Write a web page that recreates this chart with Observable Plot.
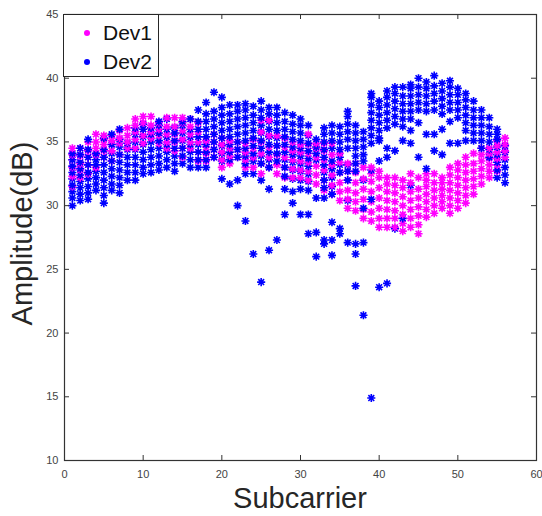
<!DOCTYPE html>
<html>
<head>
<meta charset="utf-8">
<script src="https://cdn.jsdelivr.net/npm/d3@7"></script>
<script src="https://cdn.jsdelivr.net/npm/@observablehq/plot@0.6"></script>
<style>
  html, body { margin: 0; padding: 0; background: #fff; }
  #wrap { position: relative; width: 542px; height: 516px; font-family: "Liberation Sans", Arial, sans-serif; }
  #wrap svg { position: absolute; left: 0; top: 0; }
  .xlabel { position: absolute; left: 0; width: 600px; top: 484px; text-align: center; font-size: 29px; line-height: 29px; color: #262626; }
  .ylabel { position: absolute; width: 260px; left: -108px; top: 219px; text-align: center; font-size: 29px; line-height: 29px; color: #262626; transform: rotate(-90deg); }
  .legend { position: absolute; left: 63px; top: 14px; width: 96px; height: 63px; border: 1px solid #262626; background: #fff; box-sizing: border-box; }
  .legend .row { position: absolute; left: 0; font-size: 21px; line-height: 21px; color: #111; }
  .legend .mk { position: absolute; width: 6px; height: 6px; border-radius: 3px; left: 20px; top: 8px; }
  .legend .tx { position: absolute; left: 39px; top: 0; }
</style>
</head>
<body>
<div id="wrap"></div>
<script>
// Subcarrier indices 1..56
const subcarriers = d3.range(1, 57);

// Dev1 amplitudes (dB) per subcarrier
const dev1 = [
  [31.5, 32.3, 33.0, 33.6, 34.0, 34.5],
  [32.2, 32.8, 33.3, 33.9, 34.5],
  [32.5, 33.2, 33.8, 34.3, 35.0],
  [33.0, 34.0, 34.5, 35.0, 35.6],
  [33.8, 34.3, 34.8, 35.2, 35.5],
  [33.5, 34.3, 34.8, 35.1, 35.5],
  [34.0, 34.9, 35.3, 35.9],
  [34.5, 35.0, 35.5, 36.1],
  [34.5, 35.2, 35.8, 36.3, 36.8],
  [34.9, 35.5, 36.0, 36.5, 37.0],
  [35.3, 35.8, 36.3, 37.0],
  [34.9, 35.5, 36.0, 36.5],
  [34.5, 35.0, 35.6, 36.2, 36.9],
  [34.3, 35.0, 35.6, 36.2, 36.9],
  [33.8, 34.5, 35.2, 35.9, 36.5, 36.9],
  [34.5, 35.0, 35.6, 36.2, 36.8],
  [33.5, 34.2, 35.0, 35.8, 36.5],
  [33.5, 34.1, 34.6, 35.1],
  [33.8, 34.4, 35.0, 35.6],
  [33.0, 33.6, 34.2, 34.8, 35.3],
  [33.3, 33.9, 34.5, 35.1],
  [33.8, 34.4, 35.0],
  [33.0, 33.6, 34.2, 34.9],
  [33.0, 33.8, 34.5, 35.2],
  [32.5, 33.3, 34.1, 35.0, 35.8, 36.7],
  [33.0, 33.8, 34.6, 35.5, 36.7],
  [32.5, 33.2, 34.0, 34.7, 35.5],
  [32.2, 33.0, 33.8, 34.6, 35.3],
  [32.2, 32.9, 33.6, 34.3, 35.0],
  [32.2, 32.8, 33.5, 34.2, 34.8],
  [32.0, 32.7, 33.4, 34.1, 34.8, 35.6],
  [31.7, 32.4, 33.1, 33.8, 34.5, 34.9],
  [31.2, 32.0, 32.8, 33.6, 34.3, 34.9],
  [30.9, 31.6, 32.4, 33.2, 34.0, 34.9],
  [30.4, 31.1, 31.8, 32.6, 33.4, 34.1],
  [29.8, 30.5, 31.2, 32.0, 32.7, 33.3],
  [29.6, 30.3, 31.0, 31.8, 32.6, 33.3],
  [29.0, 29.7, 30.5, 31.3, 32.1, 33.0],
  [28.8, 29.5, 30.3, 31.1, 31.9, 32.5, 33.0],
  [28.3, 29.0, 29.8, 30.6, 31.4, 32.2, 32.7],
  [28.3, 29.0, 29.7, 30.4, 31.1, 31.7, 32.2],
  [28.3, 29.0, 29.6, 30.3, 31.0, 31.6, 32.2],
  [28.0, 28.6, 29.3, 30.0, 30.7, 31.4, 32.0],
  [28.3, 29.0, 29.7, 30.4, 31.1, 31.8, 32.5],
  [27.8, 28.5, 29.2, 29.9, 30.6, 31.3, 32.2],
  [29.1, 29.7, 30.3, 30.9, 31.5, 32.0, 32.5],
  [29.4, 30.0, 30.6, 31.2, 31.8, 32.5],
  [29.8, 30.3, 30.8, 31.3, 31.8, 32.2],
  [29.4, 30.0, 30.6, 31.2, 31.8, 32.4, 33.0],
  [29.8, 30.4, 31.0, 31.6, 32.2, 32.8, 33.3],
  [30.2, 30.8, 31.4, 32.0, 32.6, 33.2, 33.8],
  [30.9, 31.5, 32.1, 32.7, 33.3, 34.1],
  [31.7, 32.3, 32.9, 33.5, 34.0, 34.5],
  [32.2, 32.7, 33.2, 33.7, 34.1, 34.5],
  [32.7, 33.2, 33.7, 34.2, 34.7, 35.1],
  [33.8, 34.3, 34.8, 35.3]
];

// Dev2 amplitudes (dB) per subcarrier
const dev2 = [
  [30.0, 30.6, 31.1, 31.6, 32.1, 32.6, 33.1, 33.6, 34.1],
  [30.4, 30.9, 31.4, 31.9, 32.4, 32.9, 33.4, 34.0, 34.5],
  [30.5, 31.0, 31.5, 32.1, 32.6, 33.2, 33.8, 34.4, 35.2],
  [31.2, 31.7, 32.2, 32.7, 33.2, 33.6, 34.1],
  [30.2, 30.8, 31.4, 32.0, 32.6, 33.2, 33.8, 34.4, 35.3],
  [31.2, 31.7, 32.3, 32.9, 33.5, 34.1, 34.8, 35.6],
  [31.0, 31.6, 32.2, 32.8, 33.4, 34.0, 34.6, 35.2, 36.0],
  [32.0, 32.6, 33.2, 33.8, 34.4, 34.9],
  [32.0, 32.6, 33.2, 33.8, 34.4, 35.0, 35.6, 36.1],
  [32.5, 33.0, 33.6, 34.2, 34.8, 35.4, 36.0, 36.4],
  [32.6, 33.2, 33.8, 34.4, 35.0, 35.6, 36.1],
  [32.8, 33.3, 33.9, 34.5, 35.1, 35.7, 36.3, 36.6],
  [33.0, 33.6, 34.2, 34.8, 35.4, 36.0, 36.8],
  [32.7, 33.3, 33.9, 34.5, 35.1, 35.7, 36.1],
  [33.3, 33.9, 34.5, 35.1, 35.7, 36.3, 36.6],
  [33.0, 33.6, 34.2, 34.8, 35.4, 36.0, 36.8],
  [33.0, 33.6, 34.2, 34.8, 35.4, 36.0, 36.6, 37.5],
  [33.0, 33.6, 34.2, 34.8, 35.4, 36.0, 36.6, 37.2, 38.1],
  [33.8, 34.4, 35.0, 35.6, 36.2, 36.8, 37.4, 38.9],
  [32.1, 33.5, 34.1, 34.7, 35.3, 35.9, 36.5, 37.1, 37.7, 38.5],
  [31.7, 33.6, 34.2, 34.8, 35.4, 36.0, 36.6, 37.2, 37.9],
  [30.0, 32.0, 33.8, 34.4, 35.0, 35.6, 36.2, 36.8, 37.4, 37.9],
  [28.8, 32.5, 33.3, 33.9, 34.5, 35.1, 35.7, 36.3, 36.9, 37.5, 38.0],
  [26.2, 32.5, 33.5, 34.1, 34.7, 35.3, 35.9, 36.5, 37.1, 37.8],
  [24.0, 32.0, 33.3, 33.9, 34.5, 35.1, 35.7, 36.3, 36.9, 37.5, 38.2],
  [26.5, 31.3, 33.0, 33.6, 34.2, 34.8, 35.4, 36.0, 36.6, 37.2, 37.7],
  [27.3, 33.5, 34.1, 34.7, 35.3, 35.9, 36.5, 37.1, 37.7],
  [29.3, 31.3, 32.3, 33.0, 33.6, 34.2, 34.8, 35.4, 36.0, 36.6, 37.3],
  [30.2, 31.1, 32.1, 32.8, 33.4, 34.0, 34.6, 35.2, 35.8, 36.4, 37.1],
  [29.3, 31.3, 32.0, 32.7, 33.3, 33.9, 34.5, 35.1, 35.7, 36.3, 36.8],
  [27.8, 29.3, 31.2, 31.9, 32.5, 33.1, 33.7, 34.3, 34.9, 35.5, 36.3],
  [26.0, 27.9, 30.6, 33.6, 34.1, 34.6, 35.2],
  [27.0, 27.3, 30.6, 31.4, 32.0, 32.6, 33.2, 33.8, 34.4, 35.0, 35.6, 36.1],
  [26.1, 27.3, 28.7, 30.9, 31.5, 32.2, 32.9, 33.5, 34.5, 35.1, 35.7, 36.3],
  [27.8, 28.2, 32.6, 33.2, 33.8, 34.4, 35.0, 35.6, 36.2],
  [27.1, 30.4, 32.0, 32.7, 33.2, 34.5, 35.2, 35.8, 36.4, 37.0, 37.4],
  [23.7, 26.2, 27.0, 32.7, 33.3, 33.9, 34.5, 35.1, 35.7, 36.3],
  [21.4, 27.1, 29.8, 32.0, 33.5, 34.0, 34.6, 35.2, 35.8],
  [14.9, 30.5, 32.8, 34.9, 35.5, 36.1, 36.7, 37.3, 37.9, 38.5, 38.8],
  [23.6, 33.5, 35.1, 35.3, 35.9, 36.5, 37.1, 37.7, 38.2],
  [23.9, 33.8, 34.5, 36.1, 36.7, 37.3, 37.9, 38.5, 39.0],
  [28.2, 34.3, 36.4, 37.0, 37.6, 38.2, 38.8, 39.3],
  [29.0, 35.1, 36.2, 36.8, 37.4, 38.0, 38.6, 39.3],
  [31.6, 34.9, 35.9, 36.8, 37.4, 38.0, 38.6, 39.2, 39.5],
  [33.8, 36.5, 37.5, 38.1, 38.7, 39.3, 40.0],
  [32.9, 35.6, 37.4, 38.0, 38.6, 39.2, 39.7],
  [34.3, 35.6, 37.5, 38.2, 38.8, 39.4, 40.2],
  [34.0, 36.0, 37.2, 37.8, 38.4, 39.0, 39.6],
  [34.9, 36.6, 37.5, 38.1, 38.7, 39.3, 39.8],
  [34.9, 36.9, 37.5, 38.1, 38.7, 39.2],
  [35.1, 35.9, 36.5, 37.1, 37.7, 38.3, 38.8],
  [35.1, 35.7, 36.3, 36.9, 37.5, 38.2],
  [34.5, 35.1, 35.7, 36.3, 36.9, 37.5],
  [33.8, 34.4, 35.0, 35.6, 36.2, 36.9],
  [32.2, 32.8, 33.4, 34.0, 34.6, 35.2, 35.6, 36.0],
  [31.8, 32.4, 33.0, 33.6, 34.2, 34.7]
];

const xTicks = [0, 10, 20, 30, 40, 50, 60];
const yTicks = [10, 15, 20, 25, 30, 35, 40, 45];
const seriesNames = ["Dev1", "Dev2"];
const seriesColors = ["#ff00ff", "#0000ff"];

// Per subcarrier, draw both devices' samples merged in ascending amplitude so the two colours mix
const points = subcarriers.flatMap((sc, i) => [
  ...dev1[i].map(v => ({sc, amp: v, dev: seriesNames[0]})),
  ...dev2[i].map(v => ({sc, amp: v, dev: seriesNames[1]}))
].sort((p, q) => p.amp - q.amp));

// MATLAB-style 8-arm asterisk symbol
const matlabStar = {
  draw(ctx, size) {
    const a = Math.sqrt(size / Math.PI) * 1.5;
    const d = a * 0.72;
    ctx.moveTo(-a, 0); ctx.lineTo(a, 0);
    ctx.moveTo(0, -a); ctx.lineTo(0, a);
    ctx.moveTo(-d, -d); ctx.lineTo(d, d);
    ctx.moveTo(-d, d); ctx.lineTo(d, -d);
  }
};

const W = 542, H = 516;
const mL = 64, mR = 6, mT = 14, mB = 56;
const fw = W - mL - mR, fh = H - mT - mB;
const tickLen = 5;
const axisColor = "#333";

const chart = Plot.plot({
  width: W, height: H,
  marginLeft: mL, marginRight: mR, marginTop: mT, marginBottom: mB,
  style: {fontFamily: "Liberation Sans, Arial, sans-serif", background: "#fff"},
  x: {domain: [0, 60]},
  y: {domain: [10, 45]},
  color: {domain: seriesNames, range: seriesColors},
  marks: [
    Plot.dot(points, {x: "sc", y: "amp", symbol: matlabStar, r: 2.7, fill: "none", stroke: "dev", strokeWidth: 1.6}),
    Plot.frame({stroke: axisColor, strokeWidth: 1.2}),
    Plot.tickX(xTicks, {x: d => d, insetTop: fh - tickLen, stroke: axisColor}),
    Plot.tickX(xTicks, {x: d => d, insetBottom: fh - tickLen, stroke: axisColor}),
    Plot.tickY(yTicks, {y: d => d, insetRight: fw - tickLen, stroke: axisColor}),
    Plot.tickY(yTicks, {y: d => d, insetLeft: fw - tickLen, stroke: axisColor}),
    Plot.axisX({ticks: xTicks, tickSize: 0, tickPadding: 10, fontSize: 11, color: "#444", label: null}),
    Plot.axisY({ticks: yTicks, tickSize: 0, tickPadding: 6, fontSize: 11, color: "#444", label: null})
  ]
});

const wrap = document.getElementById("wrap");
wrap.appendChild(chart);

const xl = document.createElement("div");
xl.className = "xlabel"; xl.textContent = "Subcarrier";
wrap.appendChild(xl);
const yl = document.createElement("div");
yl.className = "ylabel"; yl.textContent = "Amplitude(dB)";
wrap.appendChild(yl);

const lg = document.createElement("div");
lg.className = "legend";
seriesNames.forEach((name, i) => {
  const row = document.createElement("div");
  row.className = "row";
  row.style.top = (i === 0 ? 7 : 36) + "px";
  row.style.width = "96px";
  row.style.height = "21px";
  const mk = document.createElement("span");
  mk.className = "mk"; mk.style.background = seriesColors[i];
  const tx = document.createElement("span");
  tx.className = "tx"; tx.textContent = name;
  row.appendChild(mk); row.appendChild(tx);
  lg.appendChild(row);
});
wrap.appendChild(lg);
</script>
</body>
</html>
